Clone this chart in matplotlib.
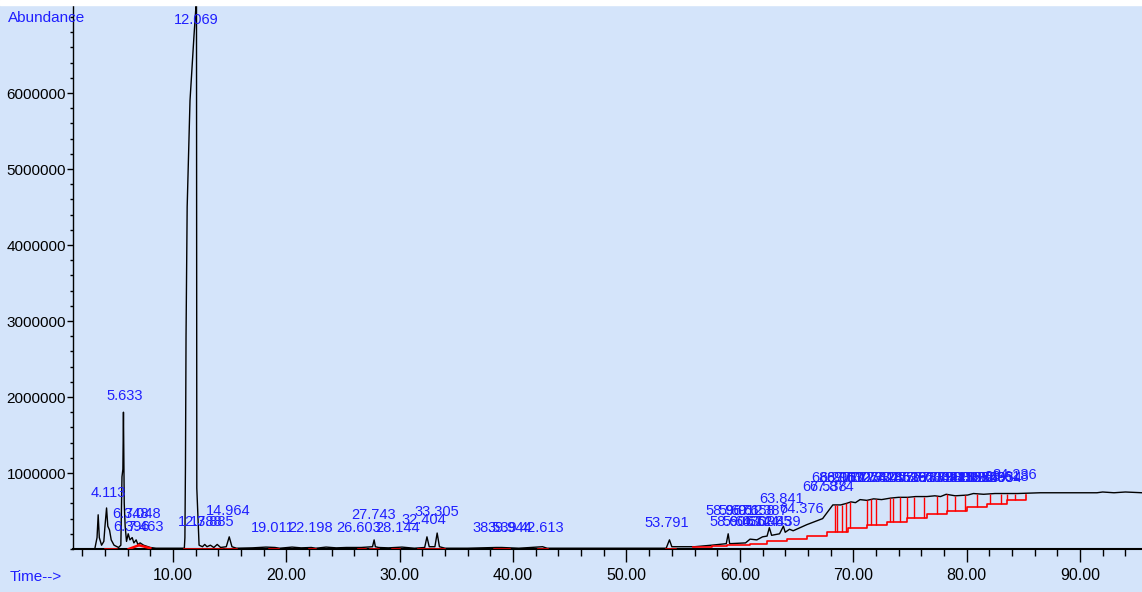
import matplotlib
matplotlib.use("Agg")
import matplotlib.pyplot as plt
from matplotlib.ticker import MultipleLocator, FixedLocator

# chromatogram trace (time in min, abundance)
trace_t = [1.18, 3.1, 3.3, 3.4, 3.5, 3.7, 3.9, 4.0, 4.14, 4.25, 4.4, 4.55, 4.8, 5.2, 5.4,
           5.5, 5.58, 5.63, 5.7, 5.78, 5.9, 6.05, 6.2, 6.4, 6.55, 6.75, 6.9, 7.1, 7.4,
           7.6, 8.0, 8.5, 11.0, 11.05, 11.1, 11.15, 11.25, 11.5, 11.85, 12.03, 12.07,
           12.1, 12.3, 12.6, 12.8, 13.0, 13.3, 13.6, 13.9, 14.2, 14.7, 14.96, 15.2,
           15.6, 17.0, 18.2, 19.0, 19.4, 20.5, 21.3, 22.2, 22.6, 23.5, 24.4, 25.3, 26.6,
           27.6, 27.74, 27.85, 28.14, 29.0, 30.2, 31.3, 32.2, 32.4, 32.6, 33.1, 33.3,
           33.5, 34.0, 36.0, 38.5, 39.0, 40.5, 42.6, 43.0, 46.0, 50.0, 53.5, 53.79,
           54.0, 56.0, 57.5, 58.8, 58.97, 59.1, 60.5, 60.9, 61.5, 62.0, 62.4, 62.6,
           62.8, 63.5, 63.84, 64.0, 64.38, 64.7, 65.3, 65.9, 66.6, 67.3, 67.8, 68.2,
           68.9, 69.4, 69.8, 70.2, 70.6, 71.2, 71.8, 72.5, 73.3, 74.0, 74.8, 75.5,
           76.5, 77.2, 77.7, 78.2, 79.0, 80.1, 80.6, 81.5, 82.5, 83.6, 84.5, 86.5,
           88.0, 90.5, 91.5, 92.0, 93.0, 94.0, 95.5]
trace_y = [0, 0, 150000, 450000, 150000, 50000, 100000, 300000, 540000, 300000, 250000,
           120000, 50000, 20000, 50000, 950000, 1050000, 1800000, 600000, 300000, 100000,
           200000, 120000, 150000, 80000, 120000, 60000, 80000, 50000, 40000, 20000,
           10000, 10000, 150000, 1100000, 2800000, 4500000, 5900000, 6750000, 7150000,
           7600000, 800000, 50000, 30000, 60000, 30000, 50000, 20000, 60000, 20000,
           30000, 160000, 30000, 10000, 15000, 25000, 20000, 10000, 25000, 15000,
           20000, 10000, 25000, 15000, 20000, 20000, 30000, 120000, 30000, 20000,
           15000, 25000, 10000, 20000, 160000, 30000, 30000, 210000, 30000, 10000,
           10000, 20000, 20000, 10000, 30000, 10000, 10000, 10000, 10000, 120000,
           30000, 30000, 50000, 70000, 200000, 70000, 80000, 130000, 120000, 160000,
           170000, 280000, 180000, 200000, 300000, 220000, 260000, 240000, 280000,
           320000, 360000, 400000, 500000, 580000, 580000, 600000, 620000, 610000,
           650000, 640000, 660000, 650000, 670000, 680000, 680000, 690000, 690000,
           700000, 690000, 720000, 700000, 710000, 730000, 720000, 730000, 730000,
           730000, 740000, 740000, 740000, 740000, 750000, 740000, 750000, 740000]

# integration baselines near zero
seg_t0 = [4.0, 6.1, 7.0, 11.0, 14.6, 18.5, 22.0, 26.3, 27.4, 29.3, 31.6, 38.3, 42.2, 53.5]
seg_t1 = [5.0, 7.0, 8.0, 14.3, 15.6, 19.3, 22.5, 26.9, 28.1, 29.9, 33.9, 39.6, 43.0, 54.3]
seg_y0 = [0, 0, 50000, 0, 0, 0, 0, 0, 0, 0, 0, 0, 0, 0]
seg_y1 = [0, 50000, 10000, 0, 0, 0, 0, 0, 0, 0, 0, 0, 0, 0]

# stepped baseline under the late hump
base_t = [55.9, 57.5, 58.9, 60.9, 62.4, 64.2, 65.9, 67.7, 69.5, 71.2, 73.0, 74.7,
          76.5, 78.3, 80.0, 81.8, 83.6, 85.2]
base_y = [20000, 40000, 50000, 70000, 100000, 130000, 170000, 230000, 280000, 320000,
          360000, 410000, 460000, 500000, 550000, 590000, 640000, 710000]

# red drop lines
drop_t = [68.4, 68.6, 69.0, 69.4, 69.7, 71.2, 71.6, 72.0, 73.2, 73.5, 74.1, 74.7, 75.4,
          76.2, 77.4, 78.3, 79.0, 79.9, 80.9, 82.1, 83.0, 83.6, 84.3]
drop_lo = [230000, 230000, 230000, 230000, 280000, 320000, 320000, 320000, 360000,
           360000, 360000, 410000, 410000, 410000, 460000, 500000, 500000, 500000,
           550000, 590000, 590000, 640000, 640000]
drop_hi = [580000, 580000, 580000, 600000, 620000, 640000, 660000, 660000, 670000,
           670000, 680000, 680000, 690000, 690000, 700000, 720000, 700000, 710000,
           720000, 730000, 730000, 730000, 730000]

# peak labels (text, centre time, centre abundance)
label_text = ["4.113", "5.633", "6.348", "7.048", "6.396", "7.463", "12.069", "12.788",
              "13.885", "14.964", "19.011", "22.198", "26.603", "27.743", "28.144",
              "32.404", "33.305", "38.539", "39.944", "42.613", "53.791",
              "58.967", "59.912", "60.658", "61.387", "58.606", "59.430", "60.744",
              "61.985", "62.439", "63.841", "64.376",
              "67.538", "67.874", "68.216", "68.917", "69.612", "70.327", "71.054",
              "71.732", "72.428", "73.146", "73.851", "74.536", "75.281", "75.927",
              "76.604", "77.339", "78.042", "78.713", "79.455", "80.128", "80.876",
              "81.549", "82.265", "82.934", "83.618", "84.236"]
label_t = [4.26, 5.76, 6.29, 7.35, 6.38, 7.61, 12.03, 12.38, 13.44, 14.85, 18.82, 22.09,
           26.41, 27.65, 29.77, 32.15, 33.30, 38.42, 39.74, 42.50, 53.51,
           58.90, 60.05, 61.15, 62.30, 59.25, 60.40, 61.50, 62.60, 63.40, 63.66, 65.40,
           67.50, 68.10, 68.30, 68.95, 69.60, 70.30, 71.00, 71.70, 72.40, 73.10, 73.80,
           74.50, 75.20, 75.90, 76.60, 77.30, 78.00, 78.70, 79.40, 80.10, 80.80, 81.50,
           82.20, 82.90, 83.55, 84.20]
label_y = [740000, 2010000, 460000, 460000, 290000, 290000, 6960000, 360000, 360000,
           500000, 280000, 280000, 280000, 450000, 280000, 380000, 490000, 280000,
           280000, 280000, 340000,
           500000, 500000, 500000, 500000, 360000, 360000, 360000, 360000, 360000,
           660000, 530000,
           820000, 820000, 930000, 930000, 930000, 930000, 930000, 930000, 930000,
           930000, 930000, 930000, 930000, 930000, 930000, 930000, 930000, 930000,
           930000, 930000, 930000, 930000, 930000, 930000, 950000, 970000]

bg = "#d4e4fa"
blue = "#1f1fff"
plt.rcParams["font.family"] = ["Liberation Sans Narrow", "Liberation Sans", "DejaVu Sans"]

fig = plt.figure(figsize=(11.42, 5.92), dpi=100)
fig.patch.set_facecolor(bg)
fig.patches.append(plt.Rectangle((0, 1 - 5 / 592), 1, 5 / 592, transform=fig.transFigure,
                                 color="white", zorder=0))
ax = fig.add_axes([73 / 1142, 43 / 592, 1069 / 1142, 544 / 592])
ax.set_facecolor(bg)

ax.plot(trace_t, trace_y, color="black", lw=1.0, zorder=3)
for i in range(len(seg_t0)):
    ax.plot([seg_t0[i], seg_t1[i]], [seg_y0[i], seg_y1[i]], color="red", lw=1.8, zorder=4)
ax.plot(base_t, base_y, color="red", lw=1.2, drawstyle="steps-post", zorder=4)
ax.vlines(drop_t, drop_lo, drop_hi, color="red", lw=1.0, zorder=4)

for s, t, y in zip(label_text, label_t, label_y):
    ax.text(t, y, s, color=blue, fontsize=10.5, ha="center", va="center", zorder=5)

ax.set_xlim(1.18, 95.47)
ax.set_ylim(0, 7.158e6)

ax.spines["top"].set_visible(False)
ax.spines["right"].set_visible(False)
ax.spines["left"].set_linewidth(1.0)
ax.spines["bottom"].set_linewidth(1.5)

ax.xaxis.set_major_locator(FixedLocator([10, 20, 30, 40, 50, 60, 70, 80, 90]))
ax.xaxis.set_minor_locator(MultipleLocator(2))
ax.set_xticklabels(["%.2f" % v for v in [10, 20, 30, 40, 50, 60, 70, 80, 90]])
ax.yaxis.set_major_locator(FixedLocator([1e6, 2e6, 3e6, 4e6, 5e6, 6e6]))
ax.yaxis.set_minor_locator(MultipleLocator(2e5))
ax.set_yticklabels(["%d" % v for v in [1000000, 2000000, 3000000, 4000000, 5000000, 6000000]])

ax.tick_params(axis="x", which="major", length=9, width=1, direction="out", labelsize=11.5, pad=5)
ax.tick_params(axis="x", which="minor", length=5, width=1, direction="out")
ax.tick_params(axis="y", which="major", length=4, width=1, direction="out", labelsize=11, pad=1)
ax.tick_params(axis="y", which="minor", length=2.5, width=1, direction="out")

fig.text(8 / 1142, 1 - 18 / 592, "Abundance", color=blue, fontsize=11, ha="left", va="center")
fig.text(10 / 1142, 1 - 577 / 592, "Time-->", color=blue, fontsize=11, ha="left", va="center")

fig.savefig("out.png", dpi=100, facecolor=bg)
